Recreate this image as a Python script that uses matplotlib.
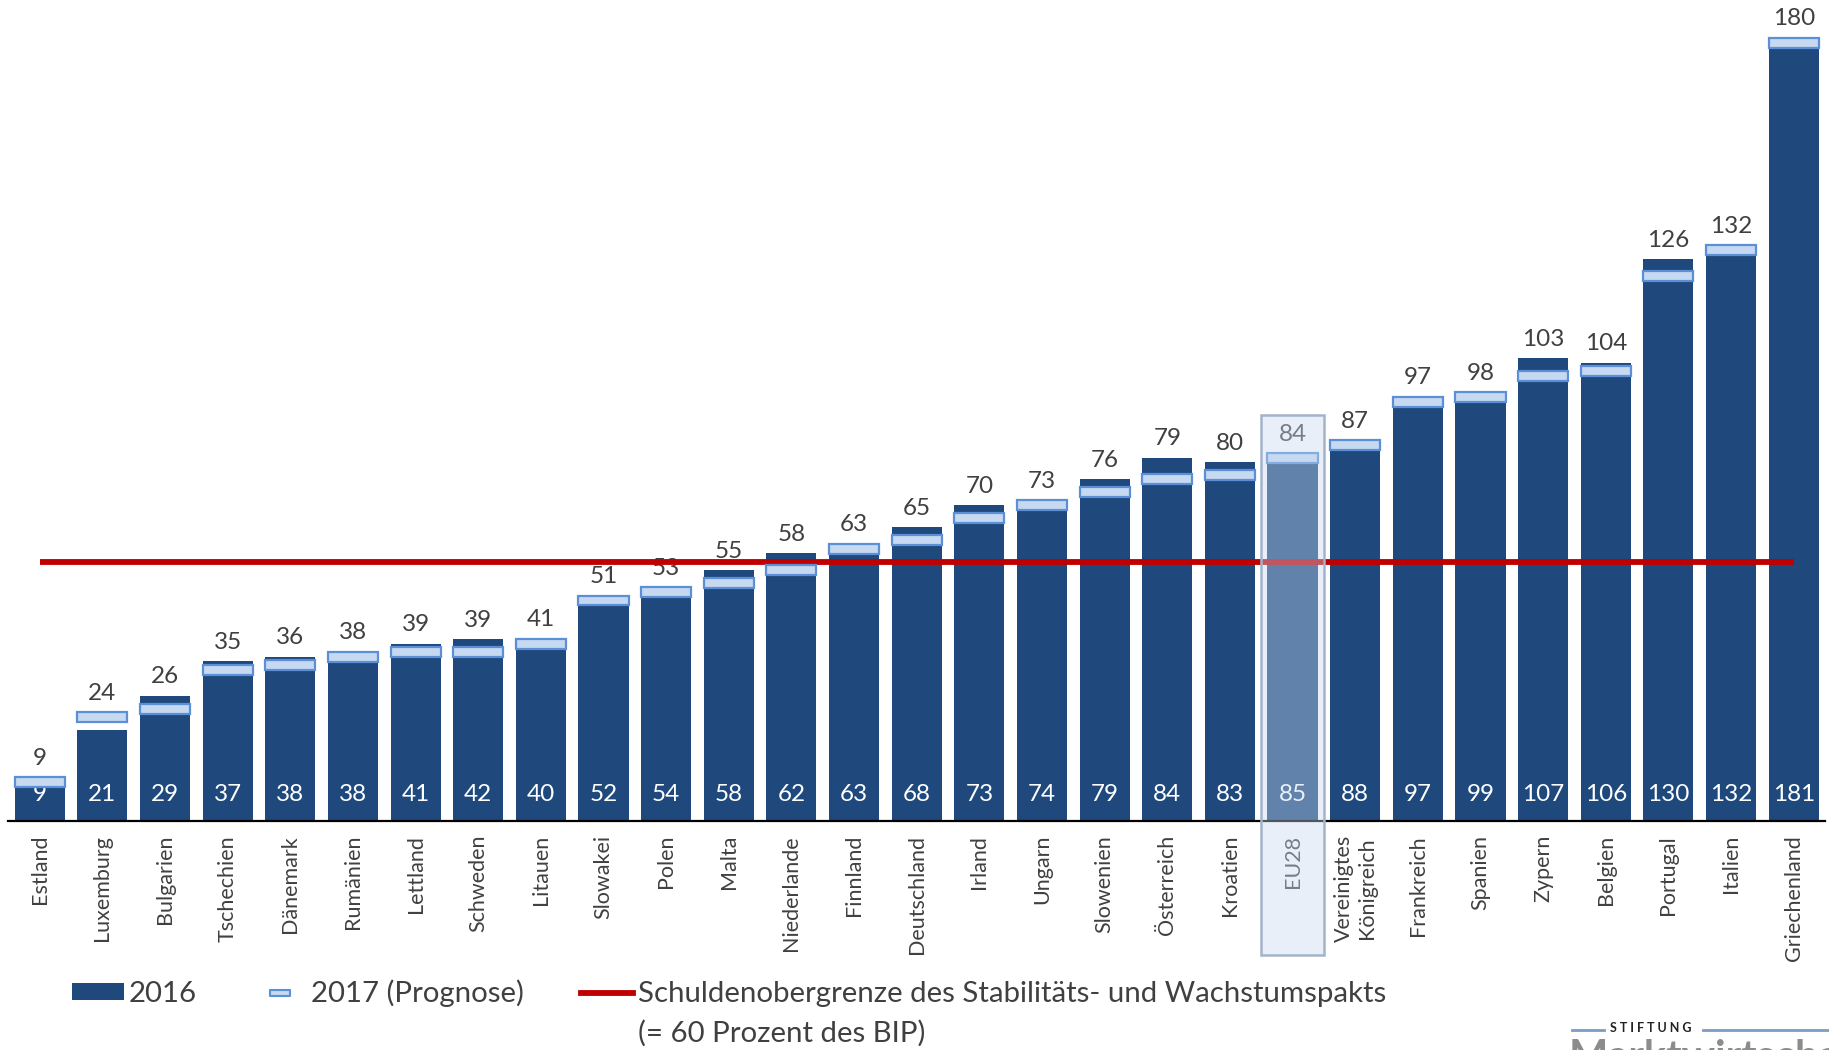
import numpy as np
import matplotlib.pyplot as plt
from matplotlib.patches import Patch, Rectangle
from matplotlib.lines import Line2D
from matplotlib.path import Path

# Schriften: Lato kommt Calibri am naechsten
plt.rcParams['font.family'] = ['Lato', 'DejaVu Sans']

# Daten: Staatsschulden in Prozent des BIP
laender = ['Estland', 'Luxemburg', 'Bulgarien', 'Tschechien', 'Dänemark', 'Rumänien',
           'Lettland', 'Schweden', 'Litauen', 'Slowakei', 'Polen', 'Malta', 'Niederlande',
           'Finnland', 'Deutschland', 'Irland', 'Ungarn', 'Slowenien', 'Österreich',
           'Kroatien', 'EU28', 'Vereinigtes\nKönigreich', 'Frankreich', 'Spanien', 'Zypern',
           'Belgien', 'Portugal', 'Italien', 'Griechenland']
schulden_2016 = [9, 21, 29, 37, 38, 38, 41, 42, 40, 52, 54, 58, 62, 63, 68, 73, 74, 79,
                 84, 83, 85, 88, 97, 99, 107, 106, 130, 132, 181]
schulden_2017 = [9, 24, 26, 35, 36, 38, 39, 39, 41, 51, 53, 55, 58, 63, 65, 70, 73, 76,
                 79, 80, 84, 87, 97, 98, 103, 104, 126, 132, 180]
grenze = 60

dunkelblau = '#1f497d'
hellblau = '#c6d9f1'
randblau = '#5b8fd6'
rot = '#c00000'
grau = '#404040'

fig = plt.figure(figsize=(18.29, 10.5), dpi=100)
ax = fig.add_axes([8.4/1829, 229/1050, 1816.6/1829, 815/1050])

x = np.arange(len(laender))
v16 = np.array(schulden_2016)
v17 = np.array(schulden_2017)

# Balken 2016
ax.bar(x, v16, width=0.8, color=dunkelblau, zorder=2)

# Prognose 2017 als flache Markierung
mh = 2.3
ax.bar(x, mh, bottom=v17 - mh/2, width=0.8, color=hellblau, edgecolor=randblau,
       linewidth=1.6, zorder=5)

# Schuldenobergrenze
ax.plot(x, [grenze]*len(x), color=rot, lw=4.2, solid_capstyle='butt', zorder=4)

# Beschriftungen
for i in range(len(x)):
    oben = max(v16[i], v17[i] + mh/2)
    ax.annotate(str(v17[i]), (x[i], oben), xytext=(0, 6), textcoords='offset points',
                ha='center', va='bottom', fontsize=17.5, color=grau, zorder=3)
    ax.annotate(str(v16[i]), (x[i], 0), xytext=(0, 19), textcoords='offset points',
                ha='center', va='center', fontsize=17.5, color='white', zorder=3)

ax.set_xlim(-0.5, len(x) - 0.5)
ax.set_ylim(0, 188.5)
ax.set_yticks([])
ax.set_xticks(x, laender, rotation=90, fontsize=15.5, color=grau)
ax.tick_params(axis='x', length=0, pad=10)
for s in ['left', 'right', 'top']:
    ax.spines[s].set_visible(False)
ax.spines['bottom'].set_color('black')
ax.spines['bottom'].set_linewidth(1.6)

# EU28 hervorheben
eu = laender.index('EU28')
ax.add_patch(Rectangle((eu - 0.5, -31), 1, 125, facecolor='#c6d9f0', alpha=0.4,
                       edgecolor='none', clip_on=False, zorder=10))
ax.add_patch(Rectangle((eu - 0.5, -31), 1, 125, facecolor='none', edgecolor='#a3b4ca',
                       linewidth=1.8, clip_on=False, zorder=11))

# Legende
rechteck = Path([(-1, -0.35), (1, -0.35), (1, 0.35), (-1, 0.35), (-1, -0.35)],
                [Path.MOVETO, Path.LINETO, Path.LINETO, Path.LINETO, Path.CLOSEPOLY])
handles = [Patch(facecolor=dunkelblau),
           Line2D([], [], ls='none', marker=rechteck, markersize=14, mfc=hellblau,
                  mec=randblau, mew=1.5),
           Line2D([], [], color=rot, lw=4.2)]
labels = ['2016', '2017 (Prognose)', 'Schuldenobergrenze des Stabilitäts- und Wachstumspakts']
leg = fig.legend(handles, labels, loc='upper left', bbox_to_anchor=(72/1829, 0.067),
                 ncol=3, frameon=False, fontsize=21.2, labelcolor=grau, handlelength=1.75,
                 handleheight=0.52, handletextpad=0.18, columnspacing=1.95, borderpad=0,
                 borderaxespad=0)

fig.canvas.draw()
bb = leg.get_texts()[2].get_window_extent()
fig.text(bb.x0/1829, (bb.y1 - 38.5)/1050, '(= 60 Prozent des BIP)', fontsize=21.2,
         color=grau, ha='left', va='top')

# Logo unten rechts
fig.text(1610/1829, 1 - 1028/1050, 'S T I F T U N G', fontsize=9, fontweight='bold',
         color='#222222', va='center')
fig.add_artist(Line2D([1572/1829, 1604/1829], [1 - 1030/1050]*2, color='#7a9cc6', lw=2))
fig.add_artist(Line2D([1703/1829, 1.0], [1 - 1030/1050]*2, color='#7a9cc6', lw=2))
fig.text(1569/1829, 1 - 1039/1050, 'Marktwirtschaft', fontsize=30, fontweight='bold',
         color='#8c8c8c', va='top')

fig.savefig('out.png', dpi=100)
